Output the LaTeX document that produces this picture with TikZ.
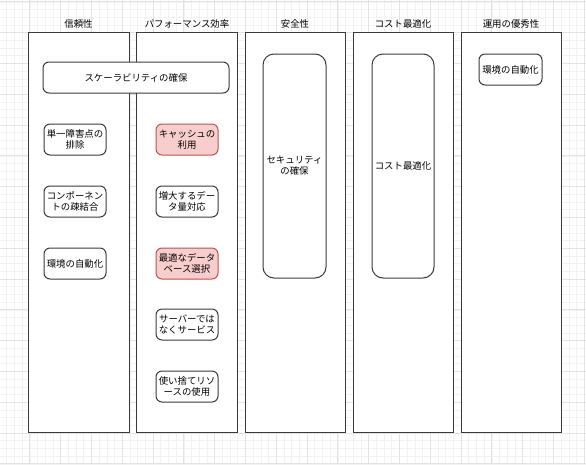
\documentclass[tikz,border=0pt]{standalone}
\usepackage{fontspec}
\setmainfont{Noto Sans CJK JP}
\definecolor{gridmajor}{HTML}{E3E3E3}
\definecolor{gridminor}{HTML}{F2F2F2}
\definecolor{strk}{HTML}{3A3A3A}
\definecolor{pinkfill}{HTML}{F8CECC}
\definecolor{pinkline}{HTML}{B85450}
\begin{document}
\begin{tikzpicture}[x=1pt,y=-1pt,
  every node/.style={font=\fontsize{9.4}{10.7}\selectfont, text=black, inner sep=0pt},
  col/.style={draw=strk, line width=1pt, fill=white},
  card/.style={draw=strk, line width=1pt, fill=white, rounded corners=6pt, align=center},
  hot/.style={card, fill=pinkfill, draw=pinkline},
  tall/.style={draw=strk, line width=1pt, fill=white, rounded corners=11pt, align=center},
  head/.style={anchor=center}]
\useasboundingbox (0,0) rectangle (586,464);
\fill[white] (0,0) rectangle (586,464);
% grid
\foreach \i in {0,...,77} {
  \draw[gridminor, line width=0.6pt] ({-1+\i*7.7},0) -- ({-1+\i*7.7},464);
}
\foreach \i in {0,...,61} {
  \draw[gridminor, line width=0.6pt] (0,{1.8+\i*7.7}) -- (586,{1.8+\i*7.7});
}
\foreach \i in {0,...,19} {
  \draw[gridmajor, line width=0.8pt] ({-1+\i*30.8},0) -- ({-1+\i*30.8},464);
}
\foreach \i in {0,...,15} {
  \draw[gridmajor, line width=0.8pt] (0,{1.8+\i*30.8}) -- (586,{1.8+\i*30.8});
}
% columns
\node[col, minimum width=101pt, minimum height=400pt] (c1) at (78.5,232) {};
\node[col, minimum width=101pt, minimum height=400pt] (c2) at (187,232) {};
\node[col, minimum width=100pt, minimum height=400pt] (c3) at (295,232) {};
\node[col, minimum width=100pt, minimum height=400pt] (c4) at (403,232) {};
\node[col, minimum width=100pt, minimum height=400pt] (c5) at (511,232) {};
% headings
\node[head] (h1) at (78.5,23.5) {信頼性};
\node[head] (h2) at (187,23.5) {パフォーマンス効率};
\node[head] (h3) at (295,23.5) {安全性};
\node[head] (h4) at (403,23.5) {コスト最適化};
\node[head] (h5) at (511,23.5) {運用の優秀性};
% cards
\node[card, minimum width=186pt, minimum height=31pt] (scal) at (136,77.5) {スケーラビリティの確保};
\node[card, minimum width=62pt, minimum height=31pt] (spof) at (75,139.5) {単一障害点の\\排除};
\node[hot, minimum width=62pt, minimum height=31pt] (cache) at (187,139.5) {キャッシュの\\利用};
\node[card, minimum width=62pt, minimum height=31pt] (loose) at (75,201.5) {コンポーネン\\トの疎結合};
\node[card, minimum width=62pt, minimum height=31pt] (data) at (187,201.5) {増大するデー\\タ量対応};
\node[card, minimum width=62pt, minimum height=31pt] (env1) at (75,263.5) {環境の自動化};
\node[hot, minimum width=62pt, minimum height=31pt] (db) at (187,263.5) {最適なデータ\\ベース選択};
\node[card, minimum width=62pt, minimum height=31pt] (svc) at (187,324.5) {サーバーでは\\なくサービス};
\node[card, minimum width=62pt, minimum height=31pt] (disp) at (187,386.5) {使い捨てリソ\\ースの使用};
\node[tall, minimum width=63pt, minimum height=224pt] (sec) at (294.5,166) {セキュリティ\\の確保};
\node[tall, minimum width=62pt, minimum height=224pt] (cost) at (403,166) {コスト最適化};
\node[card, minimum width=63pt, minimum height=31pt] (env2) at (510.5,69.5) {環境の自動化};
\end{tikzpicture}
\end{document}
